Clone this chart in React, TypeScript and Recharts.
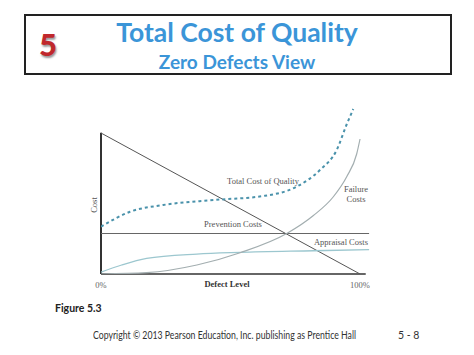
import React from "react";
import { LineChart, Line, XAxis, YAxis, ReferenceLine } from "recharts";

// defect level (%) and cost (arbitrary units)
const diagonalPts = [
  { x: 0, y: 94 },
  { x: 100, y: 0 },
];
const preventionPts = [
  { x: 0, y: 27 },
  { x: 103.5, y: 27 },
];
const appraisalPts = [
  { x: 0, y: 1.2 },
  { x: 8, y: 6 },
  { x: 17.6, y: 10.4 },
  { x: 37, y: 13.3 },
  { x: 53.7, y: 14.4 },
  { x: 82, y: 15.5 },
  { x: 103.5, y: 16.3 },
];
const failurePts = [
  { x: 0, y: 0 },
  { x: 17.6, y: 0.9 },
  { x: 37, y: 6 },
  { x: 53.7, y: 14.2 },
  { x: 71.7, y: 27 },
  { x: 82, y: 39 },
  { x: 89.7, y: 51.5 },
  { x: 94.9, y: 65 },
  { x: 98.7, y: 80 },
  { x: 100, y: 90 },
];
const totalPts = [
  { x: 0, y: 31.5 },
  { x: 11.2, y: 41.5 },
  { x: 24, y: 46 },
  { x: 43.4, y: 49.3 },
  { x: 62.7, y: 52 },
  { x: 75.5, y: 58.2 },
  { x: 84.5, y: 69.3 },
  { x: 91, y: 82.7 },
  { x: 94.9, y: 100 },
  { x: 97.4, y: 110 },
];
const xTicks = [0, 100];

const serif = "'Liberation Serif', 'DejaVu Serif', serif";
const sans = "Lato, 'Open Sans', sans-serif";

const TickLabel = (props: any) => {
  const { x, y, payload } = props;
  return (
    <text x={x} y={y + 6} textAnchor="middle" fontSize={8.5} fill="#666" fontFamily={serif}>
      {payload.value}%
    </text>
  );
};

const CurveLabel = ({
  lines,
  x,
  y,
  bold,
  angle,
}: {
  lines: string[];
  x: number;
  y: number;
  bold?: boolean;
  angle?: number;
}) => (
  <text
    x={x}
    y={y}
    textAnchor="middle"
    fontSize={8.5}
    fill={bold ? "#333" : "#555"}
    fontWeight={bold ? 700 : 400}
    fontFamily={serif}
    transform={angle ? `rotate(${angle} ${x} ${y})` : undefined}
  >
    {lines.map((l, i) => (
      <tspan key={i} x={x} dy={i === 0 ? 0 : 10}>
        {l}
      </tspan>
    ))}
  </text>
);

export default function App() {
  return (
    <div
      style={{
        position: "absolute",
        left: 0,
        top: 0,
        width: 474,
        height: 355,
        background: "#fff",
        overflow: "hidden",
        fontFamily: sans,
      }}
    >
      {/* header box */}
      <div
        style={{
          position: "absolute",
          left: 24,
          top: 14,
          width: 424,
          height: 57,
          border: "2px solid #222",
        }}
      />
      <div
        style={{
          position: "absolute",
          left: 39,
          top: 29,
          fontSize: 31,
          fontWeight: 900,
          color: "#c0282c",
          textShadow: "1px 2px 2px #999",
          lineHeight: "30px",
        }}
      >
        5
      </div>
      <div
        style={{
          position: "absolute",
          left: 60,
          width: 354,
          top: 16,
          textAlign: "center",
          color: "#3b95d8",
          fontWeight: 700,
          fontSize: 26.5,
          lineHeight: "32px",
        }}
      >
        Total Cost of Quality
      </div>
      <div
        style={{
          position: "absolute",
          left: 60,
          width: 354,
          top: 51,
          textAlign: "center",
          color: "#3b95d8",
          fontWeight: 700,
          fontSize: 19,
          lineHeight: "22px",
        }}
      >
        Zero Defects View
      </div>

      <div style={{ position: "absolute", left: 0, top: 0 }}>
        <LineChart
          width={474}
          height={355}
          margin={{ top: 101.5, right: 103.6, bottom: 69, left: 81 }}
        >
          <XAxis
            type="number"
            dataKey="x"
            domain={[0, 104]}
            ticks={xTicks}
            tick={<TickLabel />}
            axisLine={false}
            tickLine={false}
            height={12}
            allowDataOverflow
          />
          <YAxis
            type="number"
            dataKey="y"
            domain={[0, 115]}
            tick={false}
            axisLine={false}
            tickLine={false}
            width={20}
            allowDataOverflow
          />
          <ReferenceLine
            segment={[
              { x: 0, y: 0 },
              { x: 102.2, y: 0 },
            ]}
            stroke="#333"
            strokeWidth={1.6}
          />
          <ReferenceLine
            segment={[
              { x: 0, y: 0 },
              { x: 0, y: 94.2 },
            ]}
            stroke="#333"
            strokeWidth={2}
          />
          <Line
            data={preventionPts}
            dataKey="y"
            type="linear"
            stroke="#666"
            strokeWidth={1}
            dot={false}
            isAnimationActive={false}
          />
          <Line
            data={diagonalPts}
            dataKey="y"
            type="linear"
            stroke="#555"
            strokeWidth={1}
            dot={false}
            isAnimationActive={false}
          />
          <Line
            data={appraisalPts}
            dataKey="y"
            type="monotone"
            stroke="#9cc7cf"
            strokeWidth={1.3}
            dot={false}
            isAnimationActive={false}
          />
          <Line
            data={failurePts}
            dataKey="y"
            type="monotone"
            stroke="#a3aeb0"
            strokeWidth={1.2}
            dot={false}
            isAnimationActive={false}
          />
          <Line
            data={totalPts}
            dataKey="y"
            type="monotone"
            stroke="#4a92ab"
            strokeWidth={2}
            strokeDasharray="3 3"
            dot={false}
            isAnimationActive={false}
          />
          <CurveLabel lines={["Total Cost of Quality"]} x={263} y={184} />
          <CurveLabel lines={["Failure", "Costs"]} x={356} y={192} />
          <CurveLabel lines={["Prevention Costs"]} x={233} y={227} />
          <CurveLabel lines={["Appraisal Costs"]} x={341} y={245} />
          <CurveLabel lines={["Defect Level"]} x={227} y={287} bold />
          <CurveLabel lines={["Cost"]} x={97} y={205} angle={-90} />
        </LineChart>
      </div>

      <div
        style={{
          position: "absolute",
          left: 55,
          top: 302,
          fontSize: 10.5,
          fontWeight: 700,
          color: "#222",
        }}
      >
        Figure 5.3
      </div>
      <div
        style={{
          position: "absolute",
          left: 93,
          top: 329,
          fontSize: 10.5,
          color: "#333",
          whiteSpace: "nowrap",
          transformOrigin: "0 0",
          transform: "scaleX(0.83)",
        }}
      >
        Copyright © 2013 Pearson Education, Inc. publishing as Prentice Hall
      </div>
      <div
        style={{
          position: "absolute",
          left: 398,
          top: 329,
          fontSize: 10.5,
          color: "#333",
          whiteSpace: "nowrap",
        }}
      >
        5 - 8
      </div>
    </div>
  );
}
